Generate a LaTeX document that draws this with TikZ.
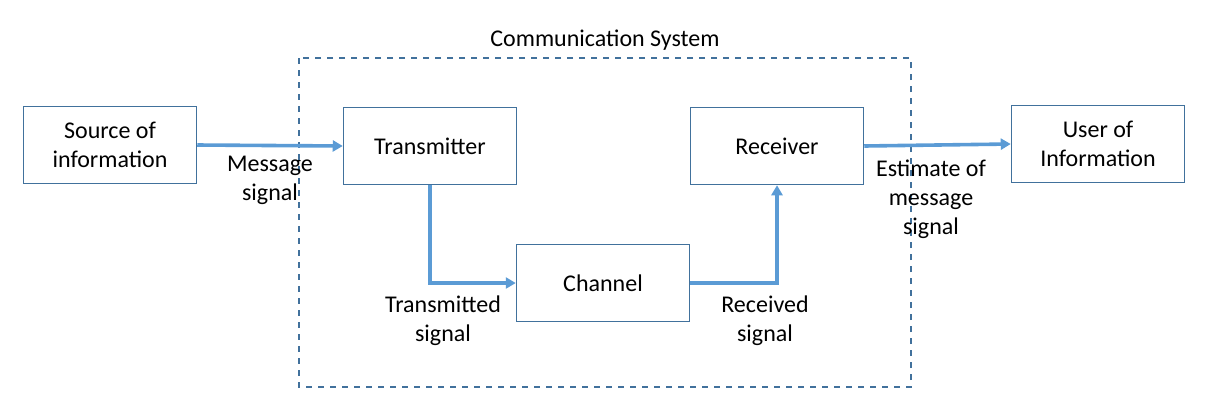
\documentclass[tikz,border=0pt]{standalone}
\usepackage{fontspec}
\setmainfont{Carlito}
\usetikzlibrary{arrows.meta}

\definecolor{boxline}{HTML}{41719C}
\definecolor{arrowblue}{HTML}{5B9BD5}

\tikzset{
  block/.style={draw=boxline, line width=0.75pt, minimum width=86.5pt, minimum height=38.5pt, align=center},
  sig/.style={draw=arrowblue, line width=1.8pt, -{Triangle[length=5pt,width=5.5pt]}},
  lbl/.style={align=center}
}

\begin{document}
\begin{tikzpicture}[x=0.5pt, y=-0.5pt, font=\fontsize{12}{14.5}\selectfont]
        \useasboundingbox (0,0) rectangle (1206,419);

        % the system frame
        \draw[boxline, dashed, line width=0.6pt] (299,58) rectangle (911,387);
        \node (title) at (605,40) {Communication System};

        \node[block] (source) at (110,145) {Source of\\information};
        \node[block] (tx) at (430,146) {Transmitter};
        \node[block] (rx) at (777,146) {Receiver};
        \node[block] (chan) at (603,283) {Channel};
        \node[block] (user) at (1098,144) {User of\\Information};

        \draw[sig] (source.east) -- (tx.west);
        \draw[sig] (tx.south) |- (chan.west);
        \draw[sig] (chan.east) -| (rx.south);
        \draw[sig] (rx.east) -- (user.west);

        \node[lbl] (msg) at (270,180) {Message\\signal};
        \node[lbl] (txsig) at (443,321) {Transmitted\\signal};
        \node[lbl] (rxsig) at (765,321) {Received\\signal};
        \node[lbl] (est) at (931,199) {Estimate of\\message\\signal};
      \end{tikzpicture}
\end{document}
